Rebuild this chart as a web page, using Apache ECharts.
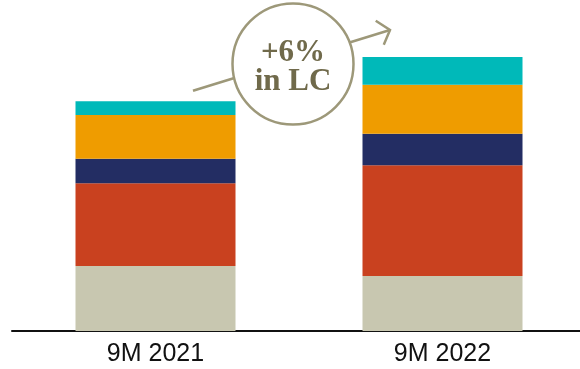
<!DOCTYPE html>
<html>
<head>
<meta charset="utf-8">
<script src="https://cdn.jsdelivr.net/npm/echarts@6/dist/echarts.min.js"></script>
<style>
  html, body { margin: 0; padding: 0; background: #ffffff; }
  #chart { width: 580px; height: 369px; }
</style>
</head>
<body>
<div id="chart"></div>
<script>
// Periods on the x axis
const categories = ['9M 2021', '9M 2022'];

// Stacked segments, bottom to top
const segBeige  = [65.0, 55.0];
const segRed    = [82.7, 110.7];
const segNavy   = [24.6, 31.6];
const segOrange = [43.7, 49.0];
const segTeal   = [13.7, 27.7];

const growthText = ['+6%', 'in LC'];

const segments = [
  { name: 'A', data: segBeige,  color: '#c8c7b0' },
  { name: 'B', data: segRed,    color: '#c9411f' },
  { name: 'C', data: segNavy,   color: '#232d63' },
  { name: 'D', data: segOrange, color: '#ef9c00' },
  { name: 'E', data: segTeal,   color: '#00b9b9' }
];

const chart = echarts.init(document.getElementById('chart'), null, { renderer: 'canvas' });

const accent = '#9d9879';

// Growth arrow: a straight shaft with an open chevron head
const tail = [193, 90.7];
const tip = [390, 30];
const dx = tip[0] - tail[0], dy = tip[1] - tail[1];
const len = Math.hypot(dx, dy);
const bx = -dx / len, by = -dy / len;
function arm(deg, l) {
  const a = deg * Math.PI / 180;
  return [tip[0] + l * (bx * Math.cos(a) - by * Math.sin(a)),
          tip[1] + l * (bx * Math.sin(a) + by * Math.cos(a))];
}
const head = [arm(50, 17), tip, arm(-50, 16)];

chart.setOption({
  animation: false,
  backgroundColor: '#ffffff',
  grid: { left: 12, right: -6, top: 1, bottom: 38, outerBoundsMode: 'none', containLabel: false },
  xAxis: {
    type: 'category',
    data: categories,
    axisLine: { lineStyle: { color: '#111111', width: 2 } },
    axisTick: { show: false },
    axisLabel: {
      fontFamily: 'Liberation Sans, Arial, sans-serif',
      fontSize: 25,
      color: '#111111',
      margin: 11
    }
  },
  yAxis: { type: 'value', min: 0, max: 330, show: false },
  series: segments.map(s => ({
    type: 'bar',
    name: s.name,
    stack: 'total',
    barWidth: 160,
    data: s.data,
    itemStyle: { color: s.color }
  })),
  graphic: [
    {
      type: 'line',
      shape: { x1: tail[0], y1: tail[1], x2: tip[0], y2: tip[1] },
      style: { stroke: accent, lineWidth: 2.5 },
      z: 10
    },
    {
      type: 'polyline',
      shape: { points: head },
      style: { stroke: accent, lineWidth: 2.5, fill: null },
      z: 10
    },
    {
      type: 'circle',
      shape: { cx: 293, cy: 64, r: 60.5 },
      style: { fill: '#ffffff', stroke: accent, lineWidth: 2.5 },
      z: 11
    },
    {
      type: 'text',
      x: 293, y: 53,
      style: {
        text: growthText[0],
        font: 'bold 31px "Liberation Serif", "DejaVu Serif", serif',
        fill: '#706a4b',
        align: 'center',
        verticalAlign: 'middle'
      },
      z: 12
    },
    {
      type: 'text',
      x: 293, y: 82,
      style: {
        text: growthText[1],
        font: 'bold 31px "Liberation Serif", "DejaVu Serif", serif',
        fill: '#706a4b',
        align: 'center',
        verticalAlign: 'middle'
      },
      z: 12
    }
  ]
});
</script>
</body>
</html>
